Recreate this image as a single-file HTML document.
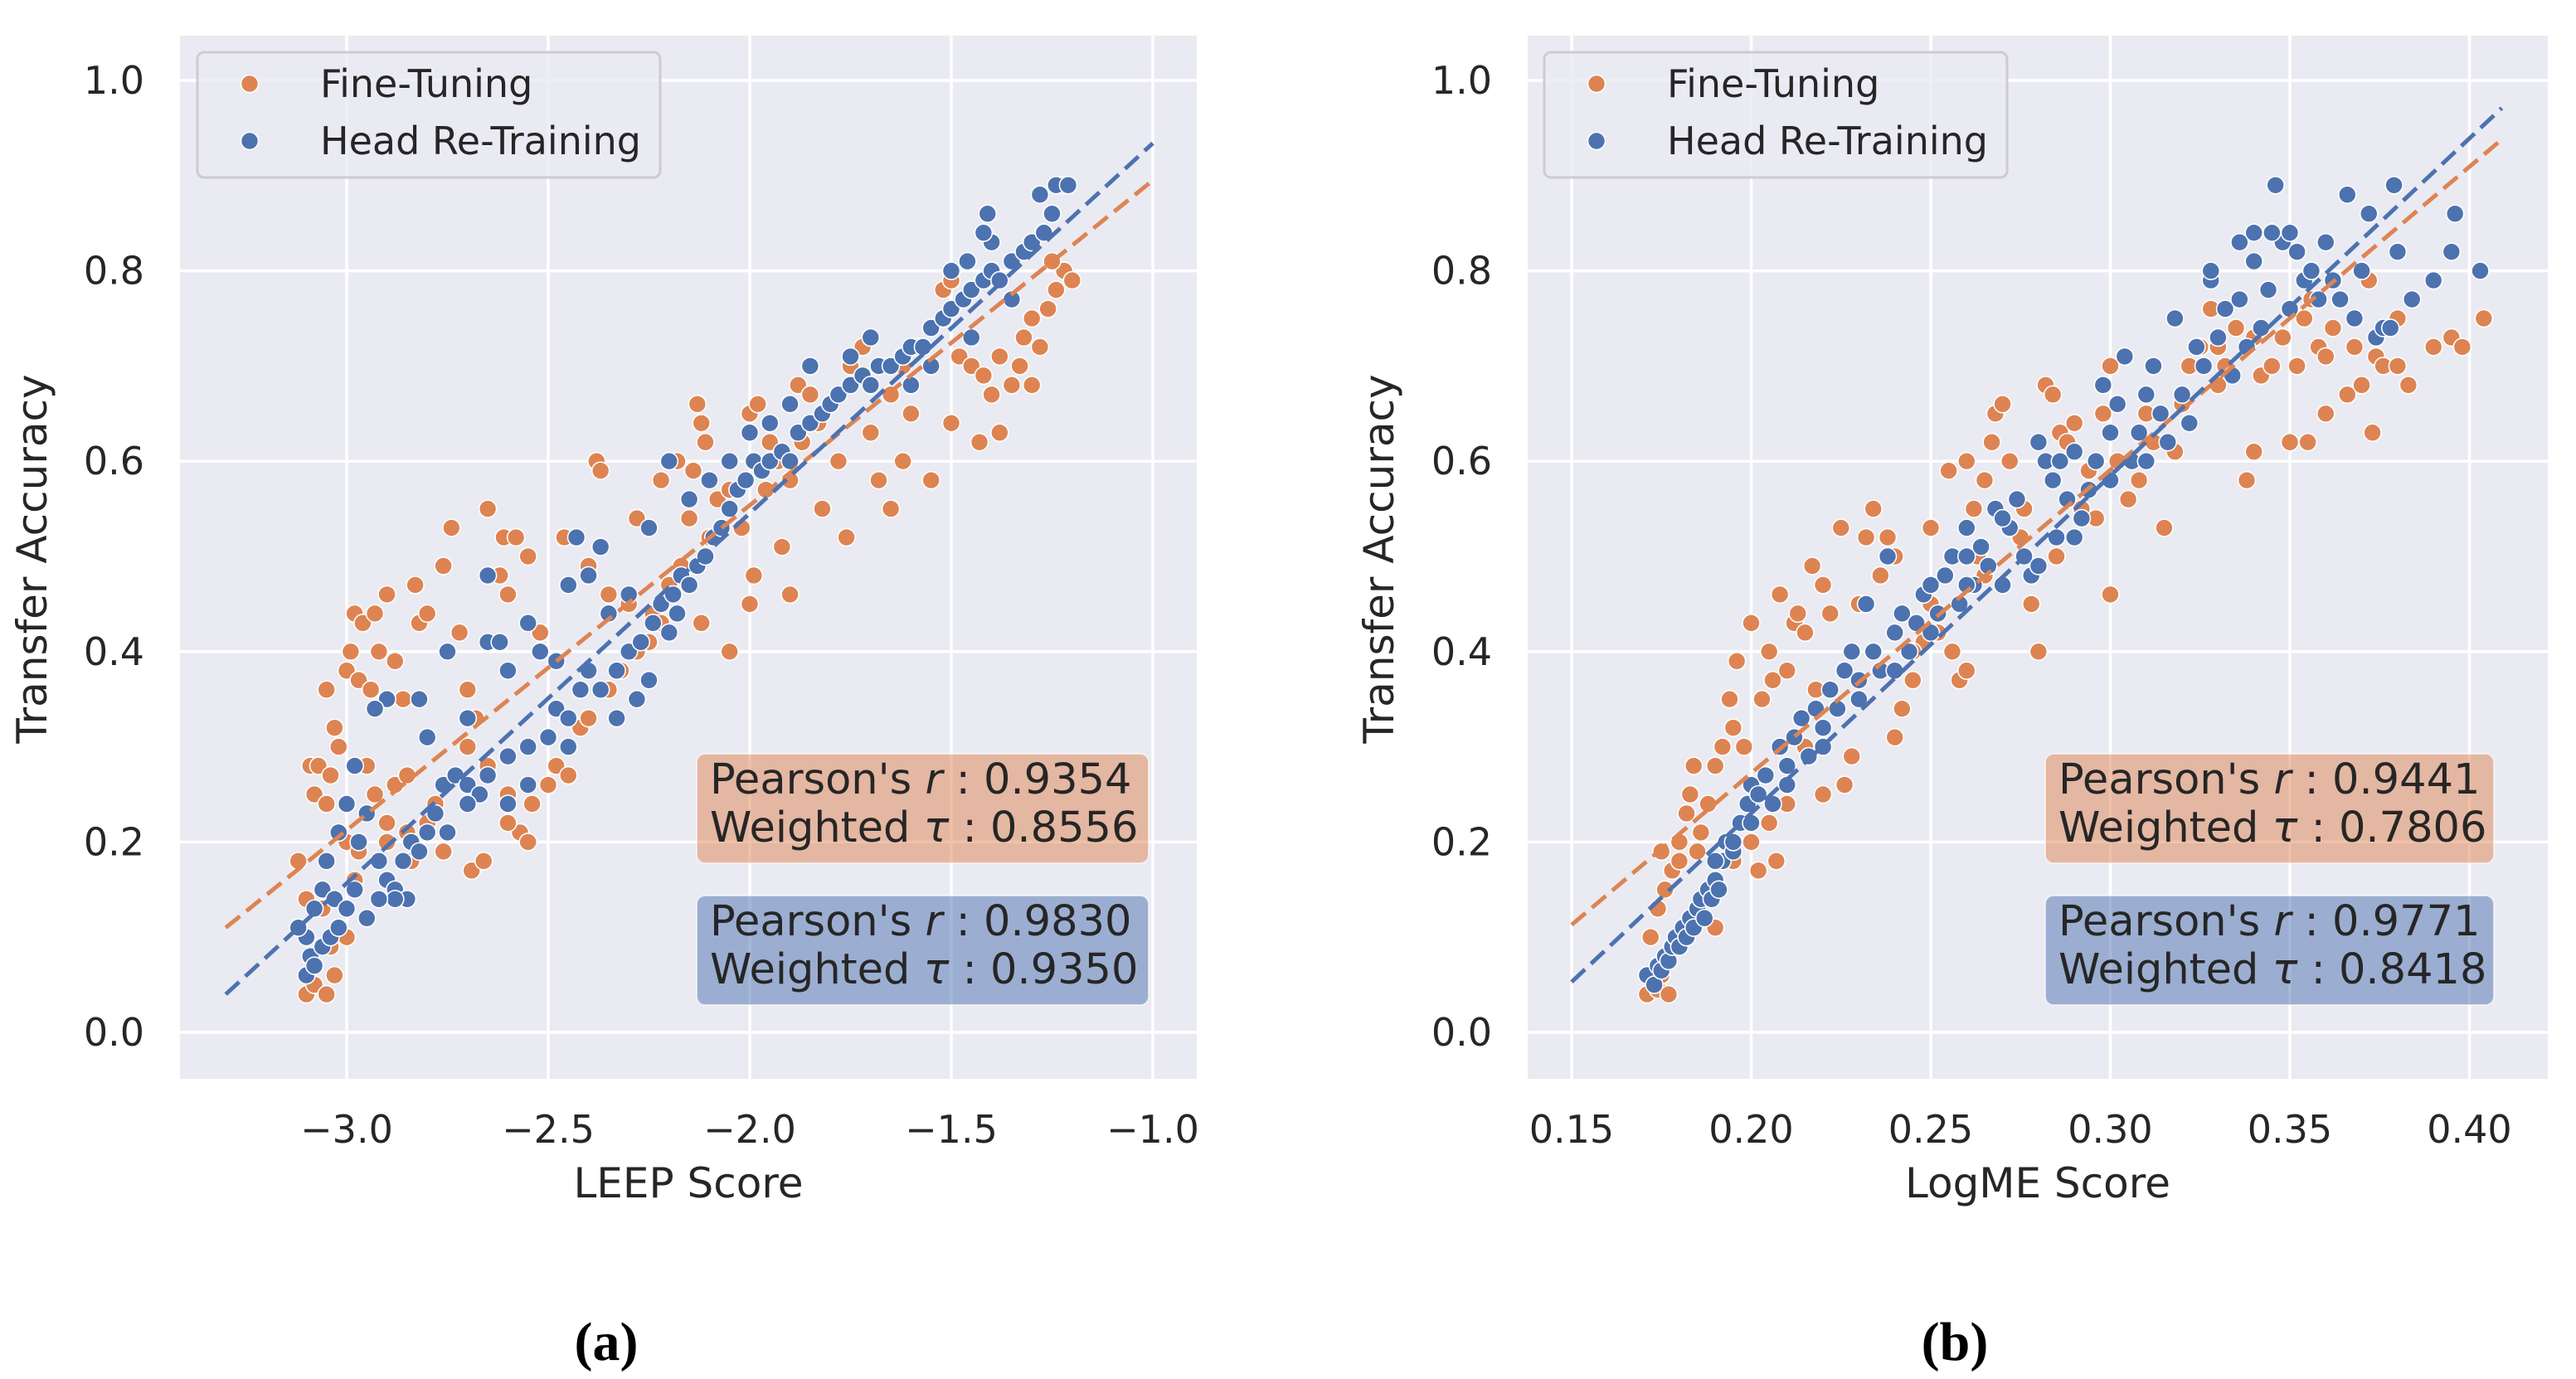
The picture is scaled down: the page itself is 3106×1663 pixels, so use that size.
<!DOCTYPE html>
<html><head><meta charset="utf-8"><style>
html,body{margin:0;padding:0;background:#fff;}
svg{display:block;font-family:"DejaVu Sans","Liberation Sans",sans-serif;}
</style></head><body>
<svg id="fig" width="3106" height="1663" viewBox="0 0 3106 1663" xmlns="http://www.w3.org/2000/svg"></svg>
<script>
const yTicks=[0.0,0.2,0.4,0.6,0.8,1.0];
const yTickLabels=["0.0","0.2","0.4","0.6","0.8","1.0"];
const leepTicks=[-3.0,-2.5,-2.0,-1.5,-1.0];
const leepTickLabels=["\u22123.0","\u22122.5","\u22122.0","\u22121.5","\u22121.0"];
const logmeTicks=[0.15,0.20,0.25,0.30,0.35,0.40];
const logmeTickLabels=["0.15","0.20","0.25","0.30","0.35","0.40"];
const leepFitFT=[[-3.3,0.11],[-1.0,0.895]];
const leepFitHR=[[-3.3,0.04],[-1.0,0.934]];
const logmeFitFT=[[0.15,0.113],[0.409,0.938]];
const logmeFitHR=[[0.15,0.053],[0.409,0.971]];
const leepStatsFT=["0.9354","0.8556"];
const leepStatsHR=["0.9830","0.9350"];
const logmeStatsFT=["0.9441","0.7806"];
const logmeStatsHR=["0.9771","0.8418"];
const leepFT=[[-3.1,0.04],[-3.08,0.05],[-3.05,0.04],[-3.03,0.06],[-3.1,0.14],[-3.12,0.18],[-3.09,0.28],[-3.07,0.28],[-3.08,0.25],[-3.05,0.24],[-3.04,0.27],[-3.02,0.3],[-3.05,0.36],[-3.03,0.32],[-3.0,0.38],[-2.99,0.4],[-2.97,0.37],[-2.98,0.44],[-2.96,0.43],[-2.93,0.44],[-2.92,0.4],[-2.9,0.46],[-2.94,0.36],[-2.95,0.28],[-2.93,0.25],[-2.9,0.22],[-2.88,0.26],[-2.85,0.27],[-2.86,0.35],[-2.88,0.39],[-2.83,0.47],[-2.82,0.43],[-2.8,0.44],[-2.76,0.49],[-2.74,0.53],[-2.72,0.42],[-2.7,0.36],[-2.68,0.33],[-2.65,0.55],[-2.61,0.52],[-2.58,0.52],[-2.55,0.5],[-2.62,0.48],[-2.6,0.46],[-2.69,0.17],[-2.66,0.18],[-2.76,0.19],[-2.8,0.22],[-2.84,0.18],[-2.7,0.3],[-2.65,0.28],[-2.6,0.25],[-2.57,0.21],[-2.55,0.2],[-2.5,0.26],[-2.48,0.28],[-2.45,0.3],[-2.42,0.32],[-2.52,0.42],[-2.46,0.52],[-2.4,0.49],[-2.38,0.6],[-2.37,0.59],[-2.35,0.46],[-2.3,0.45],[-2.28,0.54],[-2.24,0.44],[-2.22,0.58],[-2.18,0.6],[-2.15,0.54],[-2.13,0.66],[-2.12,0.64],[-2.11,0.62],[-2.14,0.59],[-2.1,0.52],[-2.12,0.43],[-2.05,0.4],[-2.0,0.45],[-1.99,0.48],[-2.0,0.65],[-1.98,0.66],[-1.95,0.62],[-1.9,0.58],[-1.88,0.68],[-1.85,0.67],[-1.92,0.51],[-1.9,0.46],[-1.82,0.55],[-1.78,0.6],[-1.75,0.7],[-1.72,0.72],[-1.7,0.73],[-1.7,0.63],[-1.68,0.58],[-1.76,0.52],[-1.65,0.55],[-1.62,0.6],[-1.6,0.65],[-1.58,0.72],[-1.55,0.74],[-1.52,0.78],[-1.5,0.79],[-1.48,0.71],[-1.45,0.7],[-1.42,0.69],[-1.4,0.67],[-1.38,0.63],[-1.43,0.62],[-1.5,0.64],[-1.55,0.58],[-1.35,0.68],[-1.32,0.73],[-1.3,0.75],[-1.28,0.72],[-1.26,0.76],[-1.24,0.78],[-1.22,0.8],[-1.2,0.79],[-1.25,0.81],[-1.22,0.89],[-1.38,0.71],[-1.33,0.7],[-1.3,0.68],[-2.35,0.36],[-2.32,0.38],[-2.28,0.4],[-2.25,0.41],[-2.22,0.43],[-2.2,0.47],[-2.17,0.49],[-2.08,0.56],[-2.05,0.57],[-2.02,0.53],[-1.96,0.57],[-1.93,0.6],[-1.87,0.62],[-1.83,0.64],[-1.8,0.66],[-1.65,0.67],[-1.62,0.7],[-2.4,0.33],[-2.45,0.27],[-2.54,0.24],[-2.6,0.22],[-3.0,0.2],[-2.97,0.19],[-3.06,0.13],[-3.0,0.1],[-3.04,0.09],[-2.98,0.16],[-2.9,0.2],[-2.85,0.21],[-2.78,0.24]];
const leepHR=[[-3.1,0.06],[-3.09,0.08],[-3.08,0.07],[-3.06,0.09],[-3.04,0.1],[-3.02,0.11],[-3.1,0.1],[-3.12,0.11],[-3.08,0.13],[-3.06,0.15],[-3.03,0.14],[-3.0,0.13],[-2.98,0.15],[-3.05,0.18],[-3.02,0.21],[-2.97,0.2],[-3.0,0.24],[-2.98,0.28],[-2.95,0.23],[-2.92,0.18],[-2.9,0.16],[-2.88,0.15],[-2.86,0.18],[-2.84,0.2],[-2.82,0.19],[-2.8,0.21],[-2.78,0.23],[-2.76,0.26],[-2.73,0.27],[-2.7,0.26],[-2.67,0.25],[-2.65,0.27],[-2.6,0.29],[-2.55,0.3],[-2.5,0.31],[-2.48,0.34],[-2.45,0.33],[-2.42,0.36],[-2.4,0.38],[-2.37,0.36],[-2.33,0.38],[-2.3,0.4],[-2.27,0.41],[-2.24,0.43],[-2.22,0.45],[-2.19,0.46],[-2.17,0.48],[-2.15,0.47],[-2.13,0.49],[-2.11,0.5],[-2.09,0.52],[-2.07,0.53],[-2.05,0.55],[-2.03,0.57],[-2.01,0.58],[-1.99,0.6],[-1.97,0.59],[-1.95,0.6],[-1.92,0.61],[-1.9,0.6],[-1.88,0.63],[-1.85,0.64],[-1.82,0.65],[-1.8,0.66],[-1.78,0.67],[-1.75,0.68],[-1.72,0.69],[-1.7,0.68],[-1.68,0.7],[-1.65,0.7],[-1.62,0.71],[-1.6,0.72],[-1.57,0.72],[-1.55,0.74],[-1.52,0.75],[-1.5,0.76],[-1.47,0.77],[-1.45,0.78],[-1.42,0.79],[-1.4,0.8],[-1.38,0.79],[-1.35,0.81],[-1.32,0.82],[-1.3,0.83],[-1.27,0.84],[-1.25,0.86],[-1.24,0.89],[-1.21,0.89],[-1.28,0.88],[-1.4,0.83],[-1.42,0.84],[-1.41,0.86],[-1.5,0.8],[-1.46,0.81],[-2.9,0.35],[-2.93,0.34],[-2.82,0.35],[-2.8,0.31],[-2.75,0.4],[-2.7,0.33],[-2.65,0.41],[-2.62,0.41],[-2.65,0.48],[-2.6,0.38],[-2.55,0.43],[-2.52,0.4],[-2.48,0.39],[-2.45,0.47],[-2.43,0.52],[-2.4,0.48],[-2.37,0.51],[-2.35,0.44],[-2.3,0.46],[-2.25,0.53],[-2.2,0.6],[-2.15,0.56],[-2.1,0.58],[-2.05,0.6],[-2.0,0.63],[-1.95,0.64],[-1.9,0.66],[-1.85,0.7],[-1.75,0.71],[-1.7,0.73],[-2.33,0.33],[-2.28,0.35],[-2.25,0.37],[-2.2,0.42],[-2.18,0.44],[-2.45,0.3],[-2.55,0.26],[-2.6,0.24],[-2.7,0.24],[-2.75,0.21],[-2.85,0.14],[-2.88,0.14],[-2.95,0.12],[-2.92,0.14],[-1.6,0.68],[-1.55,0.7],[-1.45,0.73],[-1.35,0.77]];
const logmeFT=[[0.171,0.04],[0.174,0.045],[0.177,0.04],[0.175,0.06],[0.172,0.1],[0.174,0.13],[0.176,0.15],[0.178,0.17],[0.175,0.19],[0.18,0.2],[0.182,0.23],[0.18,0.18],[0.183,0.25],[0.184,0.28],[0.186,0.21],[0.188,0.24],[0.19,0.28],[0.19,0.11],[0.192,0.3],[0.194,0.35],[0.195,0.32],[0.196,0.39],[0.198,0.3],[0.2,0.2],[0.2,0.43],[0.202,0.17],[0.203,0.35],[0.205,0.4],[0.206,0.37],[0.207,0.18],[0.208,0.46],[0.21,0.38],[0.212,0.43],[0.213,0.44],[0.215,0.42],[0.217,0.49],[0.218,0.36],[0.22,0.47],[0.222,0.44],[0.225,0.53],[0.226,0.26],[0.228,0.29],[0.23,0.45],[0.232,0.52],[0.234,0.55],[0.236,0.48],[0.238,0.52],[0.24,0.5],[0.24,0.31],[0.242,0.34],[0.245,0.37],[0.248,0.41],[0.25,0.53],[0.252,0.42],[0.255,0.59],[0.256,0.4],[0.258,0.37],[0.26,0.6],[0.262,0.55],[0.263,0.5],[0.265,0.58],[0.267,0.62],[0.268,0.65],[0.27,0.66],[0.272,0.6],[0.274,0.56],[0.276,0.55],[0.278,0.45],[0.28,0.4],[0.282,0.68],[0.284,0.67],[0.286,0.63],[0.288,0.62],[0.29,0.64],[0.292,0.55],[0.294,0.59],[0.296,0.54],[0.298,0.65],[0.3,0.46],[0.3,0.7],[0.302,0.6],[0.305,0.56],[0.308,0.58],[0.31,0.65],[0.312,0.62],[0.315,0.53],[0.318,0.61],[0.32,0.66],[0.322,0.7],[0.325,0.72],[0.328,0.76],[0.33,0.72],[0.332,0.7],[0.335,0.74],[0.338,0.58],[0.34,0.61],[0.342,0.69],[0.345,0.7],[0.348,0.73],[0.35,0.62],[0.352,0.7],[0.354,0.75],[0.356,0.77],[0.358,0.72],[0.36,0.65],[0.362,0.74],[0.364,0.77],[0.366,0.67],[0.368,0.72],[0.37,0.68],[0.372,0.79],[0.374,0.71],[0.376,0.7],[0.378,0.74],[0.38,0.7],[0.38,0.75],[0.383,0.68],[0.39,0.72],[0.395,0.73],[0.398,0.72],[0.404,0.75],[0.373,0.63],[0.355,0.62],[0.26,0.38],[0.25,0.45],[0.245,0.4],[0.265,0.48],[0.285,0.5],[0.275,0.52],[0.215,0.3],[0.22,0.25],[0.205,0.22],[0.21,0.24],[0.195,0.18],[0.185,0.19],[0.33,0.68],[0.34,0.73],[0.36,0.71]];
const logmeHR=[[0.171,0.06],[0.173,0.05],[0.174,0.07],[0.175,0.065],[0.176,0.08],[0.177,0.075],[0.178,0.09],[0.179,0.1],[0.18,0.09],[0.181,0.11],[0.182,0.1],[0.183,0.12],[0.184,0.11],[0.185,0.13],[0.186,0.14],[0.187,0.12],[0.188,0.15],[0.189,0.14],[0.19,0.16],[0.191,0.15],[0.192,0.18],[0.193,0.2],[0.195,0.19],[0.197,0.22],[0.199,0.24],[0.2,0.26],[0.202,0.25],[0.204,0.27],[0.206,0.24],[0.208,0.3],[0.21,0.28],[0.212,0.31],[0.214,0.33],[0.216,0.29],[0.218,0.34],[0.22,0.32],[0.222,0.36],[0.224,0.34],[0.226,0.38],[0.228,0.4],[0.23,0.37],[0.232,0.45],[0.234,0.4],[0.236,0.38],[0.238,0.5],[0.24,0.42],[0.242,0.44],[0.244,0.4],[0.246,0.43],[0.248,0.46],[0.25,0.47],[0.252,0.44],[0.254,0.48],[0.256,0.5],[0.258,0.45],[0.26,0.53],[0.262,0.47],[0.264,0.51],[0.266,0.49],[0.268,0.55],[0.27,0.47],[0.272,0.53],[0.274,0.56],[0.276,0.5],[0.278,0.48],[0.28,0.62],[0.282,0.6],[0.284,0.58],[0.285,0.52],[0.286,0.6],[0.288,0.56],[0.29,0.61],[0.292,0.54],[0.294,0.57],[0.296,0.6],[0.298,0.68],[0.3,0.63],[0.302,0.66],[0.304,0.71],[0.306,0.6],[0.308,0.63],[0.31,0.67],[0.312,0.7],[0.314,0.65],[0.316,0.62],[0.318,0.75],[0.32,0.67],[0.322,0.64],[0.324,0.72],[0.326,0.7],[0.328,0.79],[0.33,0.73],[0.332,0.76],[0.334,0.69],[0.336,0.77],[0.338,0.72],[0.34,0.81],[0.342,0.74],[0.344,0.78],[0.346,0.89],[0.348,0.83],[0.35,0.76],[0.352,0.82],[0.354,0.79],[0.356,0.8],[0.358,0.77],[0.36,0.83],[0.362,0.79],[0.364,0.77],[0.366,0.88],[0.368,0.75],[0.37,0.8],[0.372,0.86],[0.374,0.73],[0.376,0.74],[0.378,0.74],[0.38,0.82],[0.379,0.89],[0.384,0.77],[0.39,0.79],[0.395,0.82],[0.396,0.86],[0.403,0.8],[0.336,0.83],[0.34,0.84],[0.345,0.84],[0.35,0.84],[0.328,0.8],[0.27,0.54],[0.28,0.49],[0.29,0.52],[0.26,0.47],[0.25,0.42],[0.24,0.38],[0.23,0.35],[0.22,0.3],[0.21,0.26],[0.2,0.22],[0.195,0.2],[0.19,0.18],[0.26,0.5],[0.3,0.58],[0.31,0.6]];

const NS="http://www.w3.org/2000/svg";
const svg=document.getElementById('fig');
const ORANGE="#dd8452", BLUE="#4c72b0";
function mk(tag,attrs,parent,text){const e=document.createElementNS(NS,tag);for(const k in attrs)e.setAttribute(k,attrs[k]);if(text!==undefined)e.textContent=text;parent.appendChild(e);return e;}

function panel(cfg){
  const g=mk('g',{},svg);
  
  
  const sx=v=>cfg.x0px+(v-cfg.x0v)*cfg.xs;
  const sy=v=>1245-v*1148;
  const bg=mk('rect',{x:cfg.left,y:43,width:cfg.right-cfg.left,height:1258,fill:'#eaeaf2'},g);
  
  
  yTicks.forEach((t,i)=>{
    const l=mk('line',{x1:cfg.left,x2:cfg.right,y1:sy(t),y2:sy(t),stroke:'#fff','stroke-width':3.5},g);
    
    
    const tx=mk('text',{x:cfg.ytickX,y:sy(t)+16,'font-size':46,fill:'#262626','text-anchor':'end'},g,yTickLabels[i]);
    
    
  });
  cfg.ticks.forEach((t,i)=>{
    const l=mk('line',{x1:sx(t),x2:sx(t),y1:43,y2:1301,stroke:'#fff','stroke-width':3.5},g);
    
    
    const tx=mk('text',{x:sx(t),y:1378,'font-size':46,fill:'#262626','text-anchor':'middle'},g,cfg.tickLabels[i]);
    
    
  });
  const xl=mk('text',{x:(cfg.left+cfg.right)/2,y:1444,'font-size':50,fill:'#262626','text-anchor':'middle'},g,cfg.xlabel);
  
  
  const yl=mk('text',{x:0,y:0,'font-size':50,fill:'#262626','text-anchor':'middle',transform:`translate(${cfg.ylx},674) rotate(-90)`},g,'Transfer Accuracy');
  
  
  const drawPts=(pts,col,nm)=>{
    const sg=mk('g',{},g);
    
    
    pts.forEach(p=>{
      const c=mk('circle',{cx:sx(p[0]),cy:sy(p[1]),r:10.5,fill:col,stroke:'#fff','stroke-width':1.6},sg);
      
      
    });
  };
  drawPts(cfg.ft,ORANGE,'fine-tuning-points');
  drawPts(cfg.hr,BLUE,'head-retraining-points');
  [[cfg.fitFT,ORANGE,'fine-tuning-fit-line'],[cfg.fitHR,BLUE,'head-retraining-fit-line']].forEach(f=>{
    const l=mk('line',{x1:sx(f[0][0][0]),y1:sy(f[0][0][1]),x2:sx(f[0][1][0]),y2:sy(f[0][1][1]),stroke:f[1],'stroke-width':5,'stroke-dasharray':'22,10'},g);
    
    
  });
  const lg=mk('g',{},g);
  
  
  const lx=cfg.legX;
  mk('rect',{x:lx,y:63,width:558,height:151,rx:8,fill:'#eaeaf2','fill-opacity':0.8,stroke:'#cccccc','stroke-width':3},lg);
  [[ORANGE,'Fine-Tuning',101],[BLUE,'Head Re-Training',170]].forEach(e=>{
    const eg=mk('g',{},lg);
    
    
    mk('circle',{cx:lx+63,cy:e[2],r:10.5,fill:e[0],stroke:'#fff','stroke-width':1.6},eg);
    mk('text',{x:lx+148,y:e[2]+16,'font-size':46,fill:'#262626'},eg,e[1]);
  });
  [[cfg.statsFT,ORANGE,909,'fine-tuning-stats-box'],[cfg.statsHR,BLUE,1080,'head-retraining-stats-box']].forEach(b=>{
    const bgp=mk('g',{},g);
    
    
    mk('rect',{x:cfg.boxX,y:b[2],width:cfg.boxW,height:132,rx:10,fill:b[1],'fill-opacity':0.5,stroke:'#fff','stroke-opacity':0.6,'stroke-width':2},bgp);
    const t1=mk('text',{x:cfg.boxX+16,y:b[2]+48,'font-size':51,fill:'#262626'},bgp);
    t1.innerHTML='Pearson\'s <tspan font-style="italic">r</tspan> : '+b[0][0];
    const t2=mk('text',{x:cfg.boxX+16,y:b[2]+106,'font-size':51,fill:'#262626'},bgp);
    t2.innerHTML='Weighted <tspan font-style="italic">\u03c4</tspan> : '+b[0][1];
  });
  const cap=mk('text',{x:cfg.capX,y:1640,'font-size':66,'font-weight':'bold','font-family':'"Liberation Serif",serif',fill:'#000','text-anchor':'middle'},g,cfg.caption);
  
  
}

panel({name:'leep-panel',left:217,right:1443,x0v:-3.0,x0px:418,xs:486,ticks:leepTicks,tickLabels:leepTickLabels,xlabel:'LEEP Score',ylx:56,ytickX:174,legX:238,ft:leepFT,hr:leepHR,fitFT:leepFitFT,fitHR:leepFitHR,statsFT:leepStatsFT,statsHR:leepStatsHR,boxX:840,boxW:545,capX:731,caption:'(a)'});
panel({name:'logme-panel',left:1842,right:3072,x0v:0.15,x0px:1895,xs:4330,ticks:logmeTicks,tickLabels:logmeTickLabels,xlabel:'LogME Score',ylx:1680,ytickX:1799,legX:1862,ft:logmeFT,hr:logmeHR,fitFT:logmeFitFT,fitHR:logmeFitHR,statsFT:logmeStatsFT,statsHR:logmeStatsHR,boxX:2466,boxW:541,capX:2357,caption:'(b)'});
</script>
</body></html>
